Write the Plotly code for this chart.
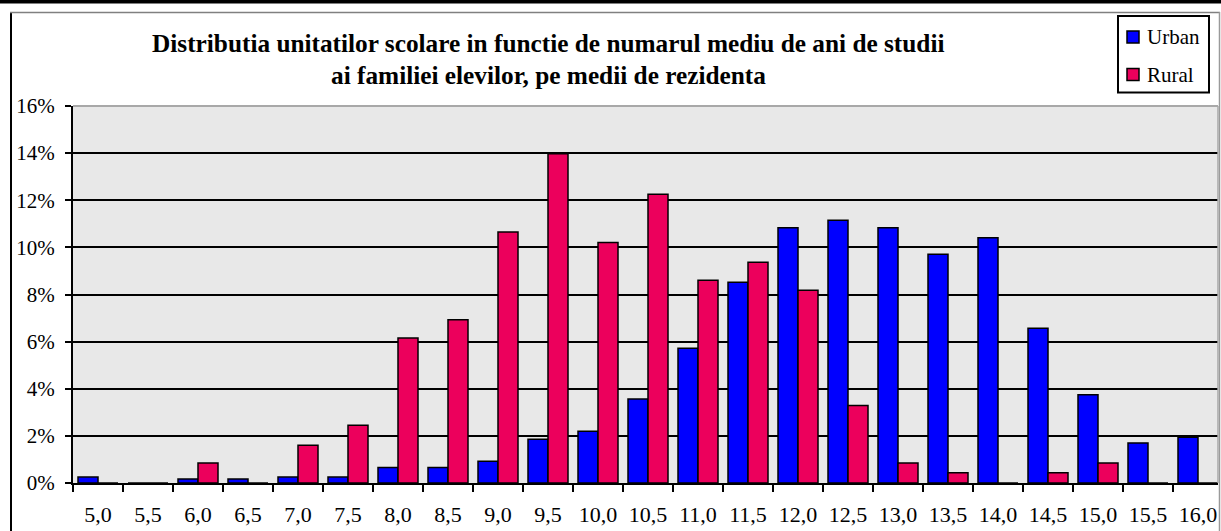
import plotly.graph_objects as go

categories = ["5,0", "5,5", "6,0", "6,5", "7,0", "7,5", "8,0", "8,5", "9,0", "9,5", "10,0", "10,5",
              "11,0", "11,5", "12,0", "12,5", "13,0", "13,5", "14,0", "14,5", "15,0", "15,5", "16,0"]
urban = [0.25, 0, 0.17, 0.17, 0.25, 0.25, 0.66, 0.66, 0.92, 1.86, 2.20, 3.56,
         5.72, 8.52, 10.83, 11.15, 10.83, 9.71, 10.41, 6.57, 3.75, 1.70, 1.94]
rural = [0, 0, 0.85, 0, 1.60, 2.45, 6.15, 6.93, 10.65, 13.97, 10.21, 12.25,
         8.61, 9.37, 8.18, 3.29, 0.85, 0.43, 0, 0.43, 0.85, 0, 0]
y_ticks = [0, 2, 4, 6, 8, 10, 12, 14, 16]
y_tick_labels = ["0%", "2%", "4%", "6%", "8%", "10%", "12%", "14%", "16%"]
series_names = ["Urban", "Rural"]
series_colors = ["#0000FF", "#EC005C"]
title_line1 = "Distributia unitatilor scolare in functie de numarul mediu de ani de studii"
title_line2 = "ai familiei elevilor, pe medii de rezidenta"

W, H = 1221, 531
L, R, T, B = 73, 1218, 106, 483


def px(x):
    return (x - L) / (R - L)


def py(y):
    return (B - y) / (B - T)


FONT = "Liberation Serif, Times New Roman, serif"

fig = go.Figure()
for name, vals, col in zip(series_names, [urban, rural], series_colors):
    fig.add_trace(go.Bar(x=categories, y=vals, name=name,
                         marker=dict(color=col, line=dict(color="black", width=1.5))))

shapes = [
    # thick black band at very top
    dict(type="rect", xref="paper", yref="paper", x0=px(0), x1=px(W), y0=py(3.5), y1=py(0),
         fillcolor="black", line=dict(width=0), layer="above"),
    # chart border
    dict(type="line", xref="paper", yref="paper", x0=px(11), x1=px(11), y0=py(12), y1=py(H + 5),
         line=dict(color="black", width=2)),
    dict(type="line", xref="paper", yref="paper", x0=px(10), x1=px(1220), y0=py(12.5), y1=py(12.5),
         line=dict(color="#808080", width=1.5)),
    dict(type="line", xref="paper", yref="paper", x0=px(1219.5), x1=px(1219.5), y0=py(12), y1=py(H + 5),
         line=dict(color="#9A9A9A", width=1.5)),
    # grey plot-area top and right edge
    dict(type="line", xref="paper", yref="paper", x0=0, x1=1, y0=1, y1=1,
         line=dict(color="#A8A8A8", width=2), layer="above"),
    dict(type="line", xref="paper", yref="paper", x0=1, x1=1, y0=0, y1=1,
         line=dict(color="#A8A8A8", width=1.5), layer="above"),
    # legend box
    dict(type="rect", xref="paper", yref="paper", x0=px(1118), x1=px(1209), y0=py(92.5), y1=py(16),
         fillcolor="white", line=dict(color="black", width=2), layer="above"),
]

annotations = [
    dict(text="<b>" + title_line1 + "</b>", xref="paper", yref="paper", x=px(548), y=py(43),
         xanchor="center", yanchor="middle", showarrow=False,
         font=dict(family=FONT, size=25.3, color="black")),
    dict(text="<b>" + title_line2 + "</b>", xref="paper", yref="paper", x=px(548), y=py(75),
         xanchor="center", yanchor="middle", showarrow=False,
         font=dict(family=FONT, size=25.3, color="black")),
]

# manual legend entries
legend_rows = [37, 74.5]
for name, col, yc in zip(series_names, series_colors, legend_rows):
    shapes.append(dict(type="rect", xref="paper", yref="paper", x0=px(1127), x1=px(1139),
                       y0=py(yc + 6), y1=py(yc - 6), fillcolor=col,
                       line=dict(color="black", width=1.5), layer="above"))
    annotations.append(dict(text=name, xref="paper", yref="paper", x=px(1145), y=py(yc),
                            xanchor="left", yanchor="middle", showarrow=False,
                            font=dict(family=FONT, size=21, color="black")))

fig.update_layout(
    width=W, height=H,
    margin=dict(l=L, r=W - R, t=T, b=H - B, autoexpand=False),
    paper_bgcolor="white", plot_bgcolor="#E8E8E8",
    barmode="group", bargap=0.2, bargroupgap=0,
    font=dict(family=FONT, size=20, color="black"),
    showlegend=False,
    shapes=shapes, annotations=annotations,
)
fig.update_xaxes(type="category", range=[-0.5, 22.4], showline=True, linecolor="black", linewidth=2,
                 ticks="outside", tickson="boundaries", ticklen=7, tickwidth=2, tickcolor="black",
                 showgrid=False, tickfont=dict(family=FONT, size=22, color="black"),
                 ticklabelstandoff=11, fixedrange=True)
fig.update_yaxes(range=[0, 16], tickvals=y_ticks, ticktext=y_tick_labels, showgrid=True,
                 gridcolor="black", gridwidth=2, showline=True, linecolor="black", linewidth=2,
                 ticks="outside", ticklen=6, tickwidth=2, tickcolor="black", zeroline=False,
                 tickfont=dict(family=FONT, size=21, color="black"), ticklabelstandoff=6,
                 fixedrange=True)

fig.write_html("out.html", config={"displayModeBar": False},
               post_script="document.body.style.margin='0px';document.body.style.overflow='hidden';")
